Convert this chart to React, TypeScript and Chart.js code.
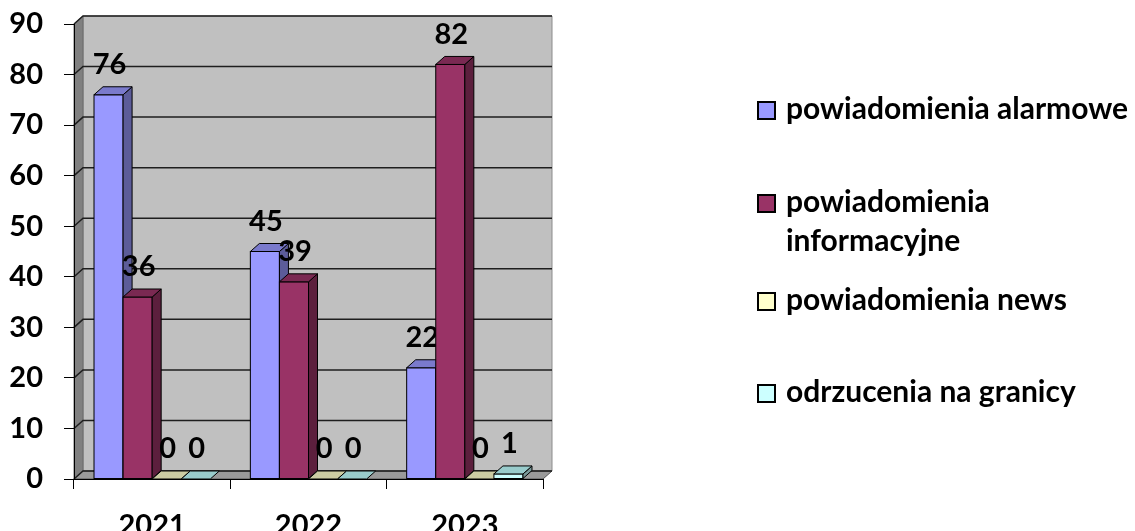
import { useEffect, useRef } from "react";
import { Chart, registerables } from "chart.js";

Chart.register(...registerables);

const categories = ["2021", "2022", "2023"];
const alarmowe = [76, 45, 22];
const informacyjne = [36, 39, 82];
const news = [0, 0, 0];
const odrzucenia = [0, 0, 1];
const seriesLabels = [
  "powiadomienia alarmowe",
  "powiadomienia informacyjne",
  "powiadomienia news",
  "odrzucenia na granicy",
];
const legendLines = [
  ["powiadomienia alarmowe"],
  ["powiadomienia", "informacyjne"],
  ["powiadomienia news"],
  ["odrzucenia na granicy"],
];
const yMax = 90;
const yStep = 10;

const frontColors = ["#9999FF", "#993366", "#FFFFCC", "#CCFFFF"];
const topColors = ["#7A7ACC", "#7A2952", "#CCCCA3", "#99CCCC"];
const sideColors = ["#5C5C99", "#5C1F3D", "#99997A", "#7A9999"];

const FONT = "Lato";
const DX = 9;
const DY = 8;

function poly(ctx: CanvasRenderingContext2D, pts: number[][], fill: string, stroke?: string, lw = 1) {
  ctx.beginPath();
  ctx.moveTo(pts[0][0], pts[0][1]);
  for (let i = 1; i < pts.length; i++) ctx.lineTo(pts[i][0], pts[i][1]);
  ctx.closePath();
  ctx.fillStyle = fill;
  ctx.fill();
  if (stroke) {
    ctx.strokeStyle = stroke;
    ctx.lineWidth = lw;
    ctx.stroke();
  }
}

const wallsPlugin = {
  id: "walls3d",
  beforeDraw(chart: any) {
    const { ctx, chartArea: a } = chart;
    const y = chart.scales.y;
    ctx.save();
    poly(
      ctx,
      [
        [a.left + DX, a.top - DY],
        [a.right + DX, a.top - DY],
        [a.right + DX, a.bottom - DY],
        [a.left + DX, a.bottom - DY],
      ],
      "#C0C0C0",
      "#8C8C8C"
    );
    poly(
      ctx,
      [
        [a.left, a.top],
        [a.left + DX, a.top - DY],
        [a.left + DX, a.bottom - DY],
        [a.left, a.bottom],
      ],
      "#808080",
      "#6A6A6A"
    );
    poly(
      ctx,
      [
        [a.left, a.bottom],
        [a.left + DX, a.bottom - DY],
        [a.right + DX, a.bottom - DY],
        [a.right, a.bottom],
      ],
      "#9A9A9A",
      "#555555"
    );
    ctx.strokeStyle = "#1E1E1E";
    ctx.lineWidth = 1.5;
    for (const t of y.ticks) {
      const yy = y.getPixelForValue(t.value);
      ctx.beginPath();
      ctx.moveTo(a.left, yy);
      ctx.lineTo(a.left + DX, yy - DY);
      ctx.lineTo(a.right + DX, yy - DY);
      ctx.stroke();
    }
    ctx.restore();
  },
};

const bars3dPlugin = {
  id: "bars3d",
  afterDatasetsDraw(chart: any) {
    const ctx: CanvasRenderingContext2D = chart.ctx;
    ctx.save();
    chart.data.datasets.forEach((ds: any, di: number) => {
      const meta = chart.getDatasetMeta(di);
      meta.data.forEach((bar: any) => {
        const { x, y, base, width } = bar.getProps(["x", "y", "base", "width"], true);
        const l = x - width / 2;
        const r = x + width / 2;
        const top = Math.min(y, base);
        if (base - top > 0.5) {
          ctx.fillStyle = frontColors[di];
          ctx.fillRect(l, top, r - l, base - top);
          ctx.strokeStyle = "#000";
          ctx.lineWidth = 1;
          ctx.strokeRect(l, top, r - l, base - top);
          poly(
            ctx,
            [
              [r, top],
              [r + DX, top - DY],
              [r + DX, base - DY],
              [r, base],
            ],
            sideColors[di],
            "#000"
          );
        }
        poly(
          ctx,
          [
            [l, top],
            [l + DX, top - DY],
            [r + DX, top - DY],
            [r, top],
          ],
          topColors[di],
          "#000"
        );
      });
      ctx.fillStyle = "#000";
      ctx.font = `bold 29px ${FONT}`;
      ctx.textAlign = "center";
      ctx.textBaseline = "middle";
      meta.data.forEach((bar: any, j: number) => {
        const { x, y, base } = bar.getProps(["x", "y", "base"], true);
        const top = Math.min(y, base);
        ctx.fillText(String(ds.data[j]), x + 1, top - 30);
      });
    });
    ctx.restore();
  },
};

const legendPlugin = {
  id: "sideLegend",
  afterDraw(chart: any) {
    const ctx: CanvasRenderingContext2D = chart.ctx;
    const baselines = [119, 212, 310, 402];
    const lineGap = 39;
    const boxX = 758;
    const textX = 786;
    const box = 17;
    ctx.save();
    ctx.font = `bold 30px ${FONT}`;
    ctx.textAlign = "left";
    ctx.textBaseline = "alphabetic";
    legendLines.forEach((lines, i) => {
      const b = baselines[i];
      ctx.fillStyle = frontColors[i];
      ctx.fillRect(boxX, b - box, box, box);
      ctx.strokeStyle = "#000";
      ctx.lineWidth = 2;
      ctx.strokeRect(boxX, b - box, box, box);
      ctx.fillStyle = "#000";
      lines.forEach((ln, k) => ctx.fillText(ln, textX, b + k * lineGap));
    });
    ctx.restore();
  },
};

export default function App() {
  const ref = useRef<HTMLCanvasElement | null>(null);
  useEffect(() => {
    if (!ref.current) return;
    const series = [alarmowe, informacyjne, news, odrzucenia];
    const chart = new Chart(ref.current, {
      type: "bar",
      data: {
        labels: categories,
        datasets: series.map((d, i) => ({
          label: seriesLabels[i],
          data: d,
          backgroundColor: frontColors[i],
          borderColor: "#000",
          borderWidth: 1,
          categoryPercentage: 0.744,
          barPercentage: 1,
        })),
      },
      options: {
        responsive: false,
        animation: false,
        layout: { padding: { top: 24, right: 592, left: 0, bottom: 0 } },
        plugins: { legend: { display: false }, tooltip: { enabled: false } },
        scales: {
          x: {
            grid: {
              display: true,
              drawOnChartArea: false,
              drawTicks: true,
              tickLength: 10,
              color: "#000",
              offset: true,
            },
            border: { display: true, color: "#000" },
            ticks: {
              color: "#000",
              padding: 19,
              font: { family: FONT, size: 29, weight: "bold" },
            },
            afterFit: (s: any) => {
              s.height = 81;
              s.paddingLeft = 0;
              s.paddingRight = 0;
            },
          },
          y: {
            min: 0,
            max: yMax,
            grid: {
              display: true,
              drawOnChartArea: false,
              drawTicks: true,
              tickLength: 10,
              color: "#000",
            },
            border: { display: true, color: "#000" },
            ticks: {
              stepSize: yStep,
              color: "#000",
              padding: 21,
              font: { family: FONT, size: 29, weight: "bold" },
            },
            afterFit: (s: any) => {
              s.width = 74;
              s.paddingTop = 0;
              s.paddingBottom = 0;
            },
          },
        },
      } as any,
      plugins: [wallsPlugin, bars3dPlugin, legendPlugin],
    });
    return () => chart.destroy();
  }, []);
  return (
    <div style={{ position: "fixed", left: 0, top: 0, width: 1135, height: 560, background: "#fff" }}>
      <canvas ref={ref} width={1135} height={560} style={{ display: "block" }} />
    </div>
  );
}
